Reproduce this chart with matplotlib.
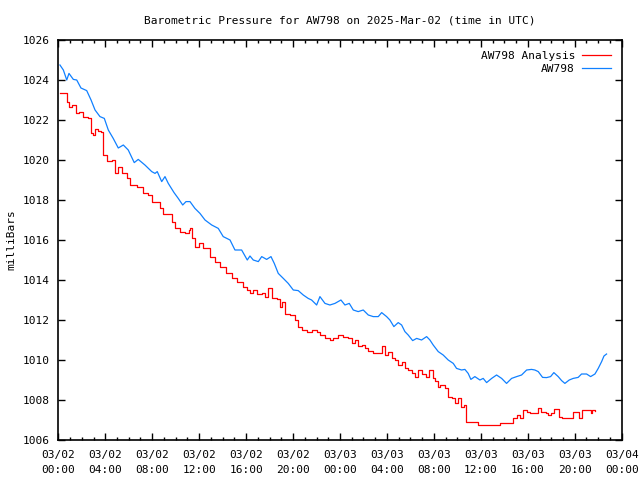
import matplotlib
matplotlib.use('Agg')
import matplotlib.pyplot as plt
from matplotlib.ticker import MultipleLocator

# hours since 2025-03-02 00:00 UTC, pressure in mbar
blue_h = [0.14, 0.43, 0.72, 0.91, 1.28, 1.57, 1.93, 2.42, 2.79, 3.13, 3.55, 3.92,
          4.26, 4.68, 5.11, 5.54, 5.96, 6.47, 6.81, 7.38, 7.96, 8.24, 8.43, 8.81,
          9.09, 9.37, 9.86, 10.22, 10.6, 10.88, 11.22, 11.64, 12.07, 12.5, 13.07,
          13.63, 14.05, 14.63, 15.05, 15.62, 16.1, 16.33, 16.61, 17.04, 17.33,
          17.75, 18.12, 18.4, 18.74, 19.17, 19.59, 20.02, 20.44, 20.87, 21.29,
          21.58, 22.01, 22.29, 22.72, 23.14, 23.57, 24.08, 24.42, 24.79, 25.13,
          25.55, 25.98, 26.41, 26.83, 27.26, 27.55, 27.97, 28.25, 28.59, 28.96,
          29.25, 29.53, 29.81, 30.19, 30.53, 30.95, 31.38, 31.66, 31.94, 32.37,
          32.79, 33.22, 33.65, 33.93, 34.36, 34.64, 34.92, 35.15, 35.49, 35.92,
          36.2, 36.49, 36.92, 37.34, 37.77, 38.19, 38.62, 39.05, 39.47, 39.9,
          40.32, 40.6, 40.89, 41.26, 41.6, 41.94, 42.22, 42.59, 42.88, 43.16,
          43.53, 43.87, 44.29, 44.58, 45.01, 45.35, 45.72, 46.0, 46.29, 46.49, 46.71]
blue_p = [1024.75, 1024.5, 1024.0, 1024.33, 1024.03, 1024.0, 1023.6, 1023.47, 1023.0,
          1022.5, 1022.17, 1022.08, 1021.5, 1021.08, 1020.6, 1020.75, 1020.5, 1019.87,
          1020.03, 1019.75, 1019.42, 1019.33, 1019.42, 1018.92, 1019.17, 1018.83,
          1018.37, 1018.08, 1017.75, 1017.92, 1017.92, 1017.58, 1017.33, 1017.0,
          1016.75, 1016.58, 1016.17, 1016.0, 1015.5, 1015.5, 1015.0, 1015.2, 1015.0,
          1014.92, 1015.17, 1015.03, 1015.17, 1014.83, 1014.33, 1014.08, 1013.83,
          1013.5, 1013.47, 1013.25, 1013.08, 1013.0, 1012.75, 1013.17, 1012.83,
          1012.75, 1012.83, 1013.0, 1012.75, 1012.83, 1012.5, 1012.42, 1012.5,
          1012.25, 1012.17, 1012.17, 1012.37, 1012.17, 1012.0, 1011.67, 1011.87,
          1011.75, 1011.42, 1011.25, 1010.97, 1011.08, 1011.0, 1011.17, 1011.0,
          1010.75, 1010.42, 1010.25, 1010.0, 1009.83, 1009.58, 1009.5, 1009.53,
          1009.33, 1009.03, 1009.17, 1009.0, 1009.08, 1008.87, 1009.08, 1009.25,
          1009.08, 1008.83, 1009.08, 1009.17, 1009.25, 1009.5, 1009.53, 1009.5,
          1009.42, 1009.13, 1009.12, 1009.17, 1009.37, 1009.17, 1008.97, 1008.83,
          1009.0, 1009.08, 1009.13, 1009.3, 1009.3, 1009.17, 1009.3, 1009.58,
          1009.92, 1010.2, 1010.3]

red_h = [0.14, 0.51, 0.72, 0.91, 1.14, 1.48, 1.76, 2.13, 2.56, 2.79, 2.98, 3.13, 3.41,
         3.64, 3.78, 4.12, 4.55, 4.83, 5.06, 5.4, 5.83, 6.11, 6.68, 7.24, 7.67, 7.96,
         8.24, 8.66, 8.94, 9.37, 9.65, 9.94, 10.37, 10.79, 11.16, 11.26, 11.36, 11.64,
         12.01, 12.35, 12.69, 12.92, 13.35, 13.77, 14.28, 14.77, 15.25, 15.76, 16.05,
         16.33, 16.61, 16.9, 17.33, 17.61, 17.89, 18.18, 18.6, 18.88, 19.03, 19.31,
         19.73, 20.16, 20.44, 20.73, 21.16, 21.58, 22.01, 22.29, 22.72, 23.14, 23.42,
         23.85, 24.27, 24.7, 24.99, 25.27, 25.55, 25.84, 26.12, 26.41, 26.83, 27.26,
         27.55, 27.83, 28.11, 28.4, 28.68, 28.96, 29.25, 29.53, 29.81, 30.1, 30.38,
         30.66, 30.95, 31.32, 31.6, 31.89, 32.09, 32.32, 32.51, 32.71, 32.94, 33.22,
         33.51, 33.79, 34.02, 34.3, 34.58, 34.7, 35.21, 35.64, 35.77, 36.63, 37.62,
         38.48, 38.76, 39.05, 39.33, 39.61, 39.9, 40.18, 40.52, 40.89, 41.09, 41.54,
         41.74, 41.94, 42.22, 42.5, 42.67, 42.88, 43.59, 43.87, 44.16, 44.38, 44.58,
         45.01, 45.35, 45.43, 45.72]
red_p = [1023.37, 1023.37, 1022.92, 1022.63, 1022.75, 1022.33, 1022.42, 1022.17,
         1022.08, 1021.33, 1021.25, 1021.53, 1021.45, 1021.42, 1020.25, 1019.95,
         1020.0, 1019.37, 1019.67, 1019.33, 1019.08, 1018.75, 1018.67, 1018.33,
         1018.25, 1017.92, 1017.92, 1017.58, 1017.3, 1017.3, 1016.92, 1016.58,
         1016.42, 1016.33, 1016.5, 1016.6, 1016.08, 1015.67, 1015.83, 1015.58,
         1015.58, 1015.17, 1014.92, 1014.67, 1014.37, 1014.08, 1013.92, 1013.67,
         1013.5, 1013.37, 1013.5, 1013.3, 1013.37, 1013.17, 1013.58, 1013.08,
         1013.03, 1012.67, 1012.92, 1012.28, 1012.25, 1012.0, 1011.67, 1011.5,
         1011.42, 1011.5, 1011.42, 1011.25, 1011.08, 1011.0, 1011.08, 1011.25,
         1011.17, 1011.08, 1010.83, 1011.0, 1010.7, 1010.75, 1010.58, 1010.47,
         1010.33, 1010.33, 1010.7, 1010.25, 1010.42, 1010.08, 1010.0, 1009.75,
         1009.92, 1009.58, 1009.5, 1009.33, 1009.17, 1009.5, 1009.3, 1009.17,
         1009.5, 1009.08, 1008.95, 1008.67, 1008.75, 1008.75, 1008.58, 1008.17,
         1008.08, 1007.83, 1008.08, 1007.67, 1007.75, 1006.92, 1006.92, 1006.92,
         1006.75, 1006.75, 1006.83, 1006.83, 1007.08, 1007.25, 1007.08, 1007.5,
         1007.42, 1007.33, 1007.37, 1007.58, 1007.42, 1007.37, 1007.25, 1007.37,
         1007.53, 1007.53, 1007.17, 1007.12, 1007.12, 1007.42, 1007.42, 1007.12,
         1007.5, 1007.5, 1007.33, 1007.5, 1007.47]

xtick_hours = [0, 4, 8, 12, 16, 20, 24, 28, 32, 36, 40, 44, 48]
xtick_labels = ['03/02\n00:00', '03/02\n04:00', '03/02\n08:00', '03/02\n12:00',
                '03/02\n16:00', '03/02\n20:00', '03/03\n00:00', '03/03\n04:00',
                '03/03\n08:00', '03/03\n12:00', '03/03\n16:00', '03/03\n20:00',
                '03/04\n00:00']

plt.rcParams['font.family'] = ['DejaVu Sans Mono']
plt.rcParams['font.size'] = 8

fig = plt.figure(figsize=(6.4, 4.8), dpi=100)
ax = fig.add_axes([58.3 / 640, 1 - 440 / 480, 563.4 / 640, 400 / 480])

ax.plot(red_h, red_p, color='#ff0000', lw=0.9, drawstyle='steps-post', label='AW798 Analysis')
ax.plot(blue_h, blue_p, color='#1080ff', lw=0.9, label='AW798')

ax.set_xlim(0, 48)
ax.set_ylim(1006, 1026)
ax.set_xticks(xtick_hours)
ax.set_xticklabels(xtick_labels, linespacing=1.65)
ax.xaxis.set_minor_locator(MultipleLocator(1))
ax.yaxis.set_major_locator(MultipleLocator(2))

ax.tick_params(which='both', direction='in', top=True, right=True, width=1, colors='black')
ax.tick_params(which='major', length=5, pad=7)
ax.tick_params(which='minor', length=2.5)
ax.tick_params(axis='y', pad=6)
for s in ax.spines.values():
    s.set_linewidth(1.2)

ax.set_title('Barometric Pressure for AW798 on 2025-Mar-02 (time in UTC)', fontsize=8, pad=12)
ax.set_ylabel('milliBars', labelpad=5)

ax.legend(loc='upper right', frameon=False, markerfirst=False, handlelength=2.6,
          handletextpad=0.6, labelspacing=0.25, borderaxespad=0.6)

fig.savefig('out.png', dpi=100)
